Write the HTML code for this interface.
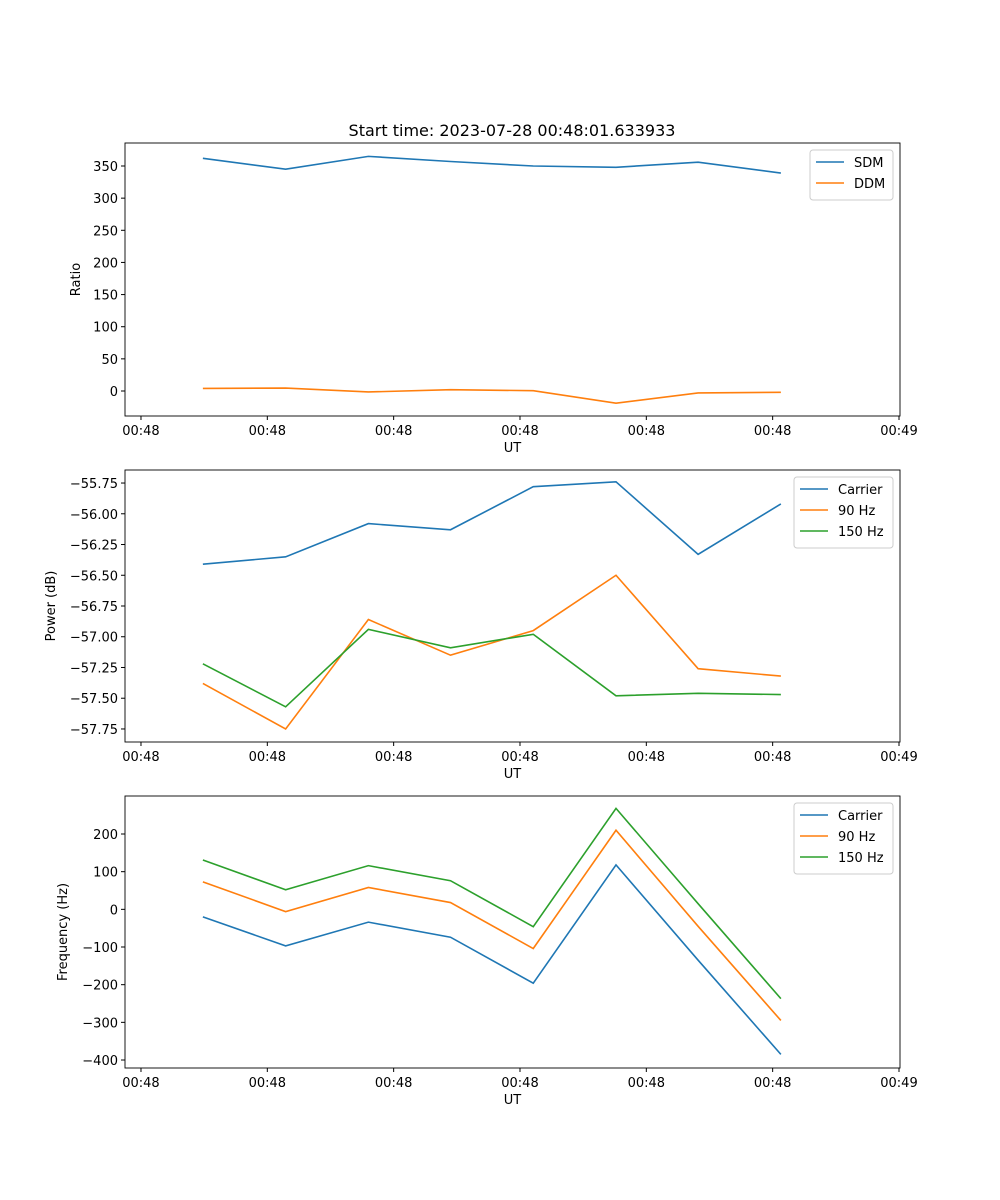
<!DOCTYPE html>
<html><head><meta charset="utf-8"><style>
body{margin:0;background:#fff}
svg{display:block;font-family:"DejaVu Sans","Liberation Sans",sans-serif}
</style></head><body>
<svg id="fig" width="1000" height="1200">
<rect width="1000" height="1200" fill="#fff"/>
<text x="512" y="136" font-size="16" text-anchor="middle">Start time: 2023-07-28 00:48:01.633933</text>
</svg>
<script>
const times=[0.98,2.29,3.60,4.90,6.21,7.52,8.82,10.13];
const xTicks=[0,2,4,6,8,10,12];
const xTickLabels=["00:48","00:48","00:48","00:48","00:48","00:48","00:49"];
const sdm=[362,345,365,357,350,348,356,339];
const ddm=[4,4.5,-1.5,2,0.5,-19,-3,-2];
const pCarrier=[-56.41,-56.35,-56.08,-56.13,-55.78,-55.74,-56.33,-55.92];
const p90=[-57.38,-57.75,-56.86,-57.15,-56.95,-56.50,-57.26,-57.32];
const p150=[-57.22,-57.57,-56.94,-57.09,-56.98,-57.48,-57.46,-57.47];
const fCarrier=[-20,-97,-34,-74,-196,118,-135,-385];
const f90=[73,-6,58,18,-104,210,-45,-295];
const f150=[131,52,116,76,-46,268,15,-237];
const ticks1=[0,50,100,150,200,250,300,350];
const ticks2=[-57.75,-57.5,-57.25,-57,-56.75,-56.5,-56.25,-56,-55.75];
const ticks3=[-400,-300,-200,-100,0,100,200];

const NS="http://www.w3.org/2000/svg";
const svg=document.getElementById('fig');
function el(t,a,p){const e=document.createElementNS(NS,t);for(const k in a)e.setAttribute(k,a[k]);(p||svg).appendChild(e);return e;}
const L=125,R=900,XMIN=-0.253,XMAX=12.016;
const xs=v=>L+(v-XMIN)/(XMAX-XMIN)*(R-L);
const C=['#1f77b4','#ff7f0e','#2ca02c'];
function fmt(v,dec){return (v<0?'\u2212':'')+Math.abs(v).toFixed(dec);}
function panel(name,top,bot,ymin,ymax,yt,dec,ylab,series,names,legW){
  const ys=v=>bot-(v-ymin)/(ymax-ymin)*(bot-top);
  const g=el('g',{});
  
  
  xTicks.forEach((t,i)=>{const x=xs(t);
    el('line',{x1:x,x2:x,y1:bot,y2:bot+4,stroke:'#000'},g);
    const tx=el('text',{x:x,y:bot+19,'font-size':13,'text-anchor':'middle'},g);tx.textContent=xTickLabels[i];
    
    });
  yt.forEach(t=>{const y=ys(t);
    el('line',{x1:L-4,x2:L,y1:y,y2:y,stroke:'#000'},g);
    const tx=el('text',{x:L-7,y:y+5,'font-size':13,'text-anchor':'end'},g);tx.textContent=fmt(t,dec);
    
    });
  const xl=el('text',{x:(L+R)/2,y:bot+36,'font-size':13,'text-anchor':'middle'},g);xl.textContent='UT';
  
  
  const yl=el('text',{x:0,y:0,'font-size':13,'text-anchor':'middle',transform:`translate(${ylab[1]},${(top+bot)/2}) rotate(-90)`},g);yl.textContent=ylab[0];
  
  
  series.forEach((s,i)=>{const pl=el('polyline',{points:s.map((v,j)=>xs(times[j])+','+ys(v)).join(' '),fill:'none',stroke:C[i],'stroke-width':1.6},g);
    
    });
  el('rect',{x:L,y:top,width:R-L,height:bot-top,fill:'none',stroke:'#000','stroke-width':0.9},g);
  const lx=R-7-legW,ly=top+7;
  const lg=el('g',{},g);
  
  
  el('rect',{x:lx,y:ly,width:legW,height:8+names.length*21,fill:'#fff',stroke:'#ccc',rx:3},lg);
  names.forEach((n,i)=>{const y=ly+12+i*21;
    el('line',{x1:lx+6,x2:lx+34,y1:y,y2:y,stroke:C[i],'stroke-width':1.6},lg);
    const t=el('text',{x:lx+44,y:y+5,'font-size':13},lg);t.textContent=n;
    
    });
}
panel('ratio-panel',143,416,-38.9,385.8,ticks1,0,['Ratio',80],[sdm,ddm],['SDM','DDM'],83);
panel('power-panel',470,742,-57.856,-55.644,ticks2,2,['Power (dB)',55],[pCarrier,p90,p150],['Carrier','90 Hz','150 Hz'],99);
panel('frequency-panel',796,1068,-421.2,300.9,ticks3,0,['Frequency (Hz)',67],[fCarrier,f90,f150],['Carrier','90 Hz','150 Hz'],99);
</script>
</body></html>
